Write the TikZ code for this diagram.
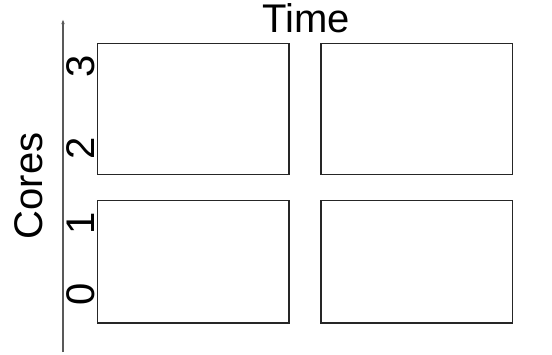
\documentclass[tikz,border=0pt]{standalone}
\usepackage{fontspec}
\setmainfont{Liberation Sans}
\usetikzlibrary{arrows.meta}
\begin{document}
\begin{tikzpicture}[x=1pt,y=-1pt,
  slot/.style={draw=black!85,line width=1.1pt,inner sep=0pt,minimum width=191.5pt},
  bigtext/.style={font=\fontsize{40}{42}\selectfont,inner sep=0pt,anchor=base},
  ticklabel/.style={bigtext,rotate=90},
  axisline/.style={draw=black!65,line width=1.5pt,-{Latex[length=5pt,width=3.5pt]}}]
\useasboundingbox (0,0) rectangle (552,354);
\node[slot,minimum height=131pt] (b00) at (193.25,109) {};
\node[slot,minimum height=131pt] (b01) at (416.75,109) {};
\node[slot,minimum height=122.5pt] (b10) at (193.25,261.75) {};
\node[slot,minimum height=122.5pt] (b11) at (416.75,261.75) {};
\coordinate (axbot) at (63,352);
\coordinate (axtop) at (63,19);
\draw[axisline] (axbot) -- (axtop);
\node[bigtext] (time) at (306.5,32) {Time};
\node[ticklabel] (cores) at (42.5,186) {Cores};
\node[ticklabel] (t0) at (94.5,294) {0};
\node[ticklabel] (t1) at (94.5,223) {1};
\node[ticklabel] (t2) at (94.5,148) {2};
\node[ticklabel] (t3) at (94.5,66) {3};
\end{tikzpicture}
\end{document}
